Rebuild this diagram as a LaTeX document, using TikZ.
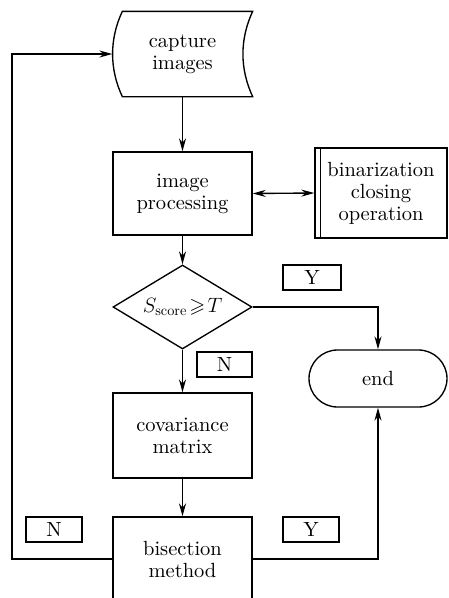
\documentclass[tikz,border=0pt]{standalone}
\usepackage{amssymb}
\usepackage{fontspec}
\setmainfont{lmroman10-regular.otf}
\usetikzlibrary{shapes.geometric,shapes.misc,arrows.meta}

\begin{document}
\begin{tikzpicture}[x=1pt, y=-1pt, line width=1.35pt,
    every node/.style={font=\fontsize{20.5}{22}\selectfont, align=center, inner sep=0pt},
    stepbox/.style={rectangle, draw, minimum width=139pt, minimum height=84pt},
    tagbox/.style={rectangle, draw, minimum width=56pt, minimum height=25pt},
    arr/.style={-{Stealth[length=13pt, width=7pt]}},
    arrs/.style={{Stealth[length=13pt, width=7pt]}-{Stealth[length=13pt, width=7pt]}}]
    \useasboundingbox (0,0) rectangle (449,598);
    \clip (0,0) rectangle (449,598);

    % Main column
    \node[rectangle, minimum width=139pt, minimum height=84pt] (cap) at (182.5,54) {capture\\images};
    \node[stepbox, minimum height=83pt] (proc) at (182.5,193.5) {image\\processing};
    \node[diamond, draw, aspect=1.655, minimum width=139pt, minimum height=84pt] (dec) at (182.5,307) {$S_{\mathrm{score}}\!\geqslant\! T$};
    \node[stepbox, minimum height=85pt] (cov) at (182.5,435.5) {covariance\\matrix};
    \node[stepbox] (bis) at (182.5,559) {bisection\\method};

    % Side boxes
    \node[stepbox, minimum width=132pt, minimum height=90pt] (bin) at (381,193) {binarization\\closing\\operation};
    \node[rounded rectangle, draw, minimum width=138pt, minimum height=57pt] (fin) at (378,378.5) {end};

    % Capture shape
    \draw ([xshift=10pt]cap.north west) -- (cap.north east)
        .. controls ([xshift=-13pt, yshift=-28pt]cap.north east) and ([xshift=-13pt, yshift=28pt]cap.south east) .. (cap.south east)
        -- ([xshift=10pt]cap.south west)
        .. controls ([xshift=-3pt, yshift=28pt]cap.south west) and ([xshift=-3pt, yshift=-28pt]cap.north west) .. ([xshift=10pt]cap.north west)
        -- cycle;
    \draw ([xshift=6pt]bin.north west) -- ([xshift=6pt]bin.south west);

    % Yes / No tags
    \node[tagbox, minimum width=58pt] (ly1) at (312,277.5) {Y};
    \node[tagbox, minimum width=55pt] (ln1) at (224.5,364.5) {N};
    \node[tagbox] (ln2) at (54,529.5) {N};
    \node[tagbox] (ly2) at (311,529.5) {Y};

    % Connecting lines
    \draw[arr] (cap) -- (proc);
    \draw[arrs] (proc.east) -- (bin.west);
    \draw[arr] (proc) -- (dec);
    \draw[arr] (dec) -- (cov);
    \draw[arr] (cov) -- (bis);
    \draw[arr] (dec.east) -| (fin.north);
    \draw[arr] (bis.east) -| (fin.south);
    \coordinate (lft) at (12,559);
    \draw[arr] (bis.west) -- (lft) |- (cap.west);
\end{tikzpicture}
\end{document}
